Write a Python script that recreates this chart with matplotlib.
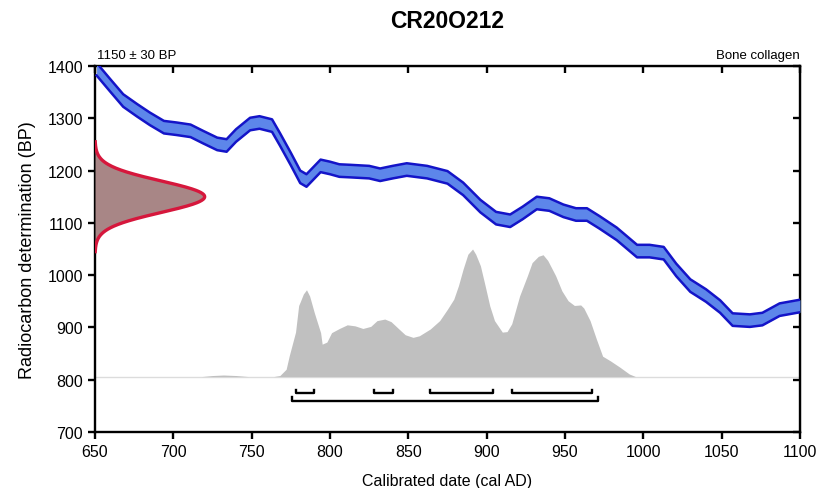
import numpy as np
import matplotlib
matplotlib.use("Agg")
from matplotlib import pyplot as plt

plt.rcParams['font.family'] = ['Liberation Sans', 'DejaVu Sans']

# calibration curve (cal AD, BP centre), half-width of the band
cal_ad = [651, 660, 668, 677, 685, 694, 702, 711, 719, 728, 734, 740, 749, 755, 763, 768,
          775, 781, 785, 794, 800, 806, 813, 825, 832, 840, 849, 862, 875, 885, 896, 906,
          915, 923, 932, 940, 949, 957, 964, 972, 983, 996, 1004, 1013, 1021, 1030, 1040,
          1049, 1057, 1068, 1076, 1087, 1100]
cal_bp = [1394, 1362, 1334, 1315, 1299, 1283, 1280, 1276, 1264, 1251, 1248, 1267, 1289, 1292,
          1286, 1260, 1222, 1188, 1181, 1209, 1205, 1200, 1199, 1197, 1192, 1197, 1202, 1197,
          1187, 1165, 1132, 1109, 1104, 1119, 1138, 1135, 1123, 1116, 1116, 1101, 1079, 1046,
          1046, 1042, 1010, 980, 961, 940, 915, 913, 916, 934, 941]
cal_err = 12

# measured date
c14_age = 1150
c14_err = 30
c14_width = 70   # horizontal extent of the peak (years)

# calibrated probability distribution (cal AD, height above baseline in BP units)
prob_ad = [650, 718, 725, 732, 740, 748, 764, 768, 772, 774, 778, 780, 781, 783, 785, 787,
           790, 794, 795, 798, 801, 806, 811, 816, 821, 826, 830, 835, 839, 844, 848, 853,
           857, 864, 870, 875, 879, 882, 885, 888, 891, 893, 896, 899, 902, 905, 910, 913,
           916, 921, 926, 929, 933, 936, 939, 944, 948, 952, 956, 960, 962, 966, 970, 974,
           979, 985, 991, 995, 1100]
prob_h = [0, 0, 2, 3, 2, 0, 0, 2, 14, 40, 85, 136, 143, 158, 166, 154,
          122, 84, 62, 66, 84, 92, 99, 97, 92, 96, 107, 110, 105, 91, 80, 75,
          78, 91, 107, 129, 148, 174, 206, 234, 244, 234, 212, 174, 135, 107, 85, 86,
          101, 154, 193, 218, 230, 233, 222, 193, 164, 145, 136, 137, 131, 107, 72, 39,
          30, 18, 5, 0, 0]
baseline = 806

# ranges: 68.2% (upper) and 95.4% (lower)
range68 = [(778, 790), (828, 840), (864, 904), (916, 967)]
range95 = [(776, 971)]

fig = plt.figure(figsize=(8.18, 4.89), dpi=100)
ax = fig.add_axes([95/818, 1-433/489, 705/818, 366/489])

x = np.array(cal_ad)
y = np.array(cal_bp)
ax.fill_between(x, y - cal_err, y + cal_err, color='#5d86ea', lw=0, zorder=3)
ax.plot(x, y + cal_err, color='#1414c8', lw=1.8, zorder=4, solid_joinstyle='round')
ax.plot(x, y - cal_err, color='#1414c8', lw=1.8, zorder=4, solid_joinstyle='round')

# probability
ax.axhline(baseline, color='#dcdcdc', lw=1, zorder=1)
ax.fill_between(prob_ad, baseline, baseline + np.array(prob_h), color='#c0c0c0', lw=0, zorder=2)

# measured age curve on y axis
bp = np.linspace(c14_age - 3.5*c14_err, c14_age + 3.5*c14_err, 300)
g = np.exp(-0.5*((bp - c14_age)/c14_err)**2)
ax.fill_betweenx(bp, 650, 650 + c14_width*g, color='#a88686', lw=0, zorder=3)
ax.plot(650 + c14_width*g, bp, color='#d6173c', lw=2.4, zorder=4)

# range brackets
for lo, hi in range68:
    ax.plot([lo, lo, hi, hi], [781, 775, 775, 781], color='black', lw=1.7, zorder=4)
for lo, hi in range95:
    ax.plot([lo, lo, hi, hi], [766, 759, 759, 766], color='black', lw=1.7, zorder=4)

ax.set_xlim(650, 1100)
ax.set_ylim(700, 1400)
ax.set_xticks(range(650, 1101, 50))
ax.set_yticks(range(700, 1401, 100))
for s in ax.spines.values():
    s.set_linewidth(1.7)
ax.tick_params(axis='both', direction='out', width=1.7, length=5, labelsize=11.5)

# inward ticks on top and right
top = ax.secondary_xaxis('top')
top.set_xticks(range(650, 1101, 50))
top.tick_params(direction='in', width=1.7, length=5, labeltop=False)
right = ax.secondary_yaxis('right')
right.set_yticks(range(700, 1401, 100))
right.tick_params(direction='in', width=1.7, length=5, labelright=False)

ax.set_xlabel('Calibrated date (cal AD)', fontsize=11.5, labelpad=10)
ax.set_ylabel('Radiocarbon determination (BP)', fontsize=13, labelpad=8)

fig.text(447/818, 1-22/489, 'CR20O212', ha='center', va='center', fontsize=16.5, fontweight='bold')
ax.text(0.003, 1.015, '1150 ± 30 BP', transform=ax.transAxes, ha='left', va='bottom', fontsize=9.5)
ax.text(1.0, 1.015, 'Bone collagen', transform=ax.transAxes, ha='right', va='bottom', fontsize=9.5)

fig.savefig('out.png', dpi=100)
